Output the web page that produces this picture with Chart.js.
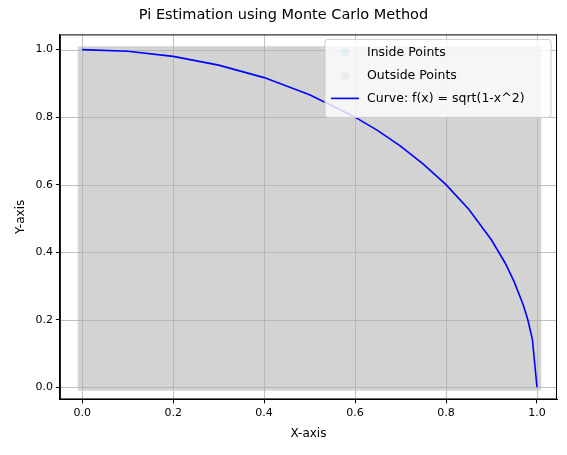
<!DOCTYPE html>
<html><head><meta charset="utf-8">
<script src="https://cdn.jsdelivr.net/npm/chart.js@4"></script>
<style>body{margin:0;background:#fff}#w{width:567px;height:455px}</style>
</head><body><div id="w"><canvas id="c"></canvas></div>
<script>
const curveX = [0,0.1,0.2,0.3,0.4,0.5,0.6,0.65,0.7,0.75,0.8,0.85,0.9,0.93,0.95,0.97,0.98,0.99,1.0];
const curveY = [1,0.995,0.980,0.954,0.917,0.866,0.8,0.760,0.714,0.661,0.6,0.527,0.436,0.368,0.312,0.243,0.199,0.141,0];
const outsideX = [-0.01,1.01];
const outsideY = [1.01,1.01];
const xTicks = [0,0.2,0.4,0.6,0.8,1.0];
const yTicks = [0,0.2,0.4,0.6,0.8,1.0];

const inside = [{x:-0.01,y:1.0}].concat(curveX.map((x,i)=>({x,y:curveY[i]})));
const gridPlugin = {id:'gr',afterDatasetsDraw(ch){
  const c=ch.ctx,a=ch.chartArea,sx=ch.scales.x,sy=ch.scales.y;
  c.save();c.strokeStyle='#b0b0b0';c.lineWidth=0.8;c.beginPath();
  xTicks.forEach(v=>{const p=Math.round(sx.getPixelForValue(v))+0.5;c.moveTo(p,a.top);c.lineTo(p,a.bottom);});
  yTicks.forEach(v=>{const p=Math.round(sy.getPixelForValue(v))+0.5;c.moveTo(a.left,p);c.lineTo(a.right,p);});
  c.stroke();
  // redraw curve on top of grid
  c.strokeStyle='blue';c.lineWidth=1.6;c.beginPath();
  curveX.forEach((x,i)=>{const px=sx.getPixelForValue(x),py=sy.getPixelForValue(curveY[i]);i?c.lineTo(px,py):c.moveTo(px,py);});
  c.stroke();
  c.strokeStyle='#000';c.lineWidth=1;c.strokeRect(a.left+0.5,a.top+0.5,a.right-a.left-1,a.bottom-a.top-1);
  c.restore();}};
const legendPlugin = {id:'lg',afterDraw(ch){
  const c=ch.ctx,a=ch.chartArea;const w=226,h=78,x=a.right-w-6,y=a.top+5;
  c.save();c.fillStyle='rgba(255,255,255,0.8)';c.strokeStyle='#ccc';c.lineWidth=1;
  c.beginPath();c.roundRect(x,y,w,h,3);c.fill();c.stroke();
  c.font='12.5px "DejaVu Sans"';c.textBaseline='middle';
  const rows=[['Inside Points','rgba(176,224,230,0.3)'],['Outside Points','rgba(211,211,211,0.3)'],['Curve: f(x) = sqrt(1-x^2)','line']];
  rows.forEach((r,i)=>{const yy=y+13+i*23;
    if(r[1]==='line'){c.strokeStyle='blue';c.lineWidth=1.6;c.beginPath();c.moveTo(x+6,yy);c.lineTo(x+34,yy);c.stroke();}
    else{c.fillStyle=r[1];c.beginPath();c.arc(x+20,yy,4,0,7);c.fill();}
    c.fillStyle='#000';c.fillText(r[0],x+42,yy);});
  c.restore();}};
new Chart(document.getElementById('c'),{
  type:'scatter',
  data:{datasets:[
    {data:outsideX.map((x,i)=>({x,y:outsideY[i]})),showLine:true,fill:{value:-0.01},backgroundColor:'#d3d3d3',borderWidth:0,pointRadius:0},
    {data:inside,showLine:true,fill:{value:-0.01},backgroundColor:'#b0dfe5',borderWidth:0,pointRadius:0},
    {data:curveX.map((x,i)=>({x,y:curveY[i]})),showLine:true,borderColor:'blue',borderWidth:0,pointRadius:0,fill:false}
  ]},
  options:{animation:false,responsive:true,maintainAspectRatio:false,
    layout:{padding:{top:5,right:10,left:10,bottom:10}},
    plugins:{legend:{display:false},tooltip:{enabled:false},
      title:{display:true,text:'Pi Estimation using Monte Carlo Method',color:'#000',font:{family:'DejaVu Sans',size:14.5,weight:'normal'},padding:{top:2,bottom:10}}},
    scales:{
      x:{min:-0.049,max:1.044,afterBuildTicks(s){s.ticks=xTicks.map(v=>({value:v}));},
        ticks:{color:'#000',font:{family:'DejaVu Sans',size:11},callback:v=>v.toFixed(1)},
        grid:{display:true,drawOnChartArea:false,color:'#000',tickLength:4},border:{color:'#000'},
        title:{display:true,text:'X-axis',color:'#000',font:{family:'DejaVu Sans',size:12}}},
      y:{min:-0.036,max:1.045,afterBuildTicks(s){s.ticks=yTicks.map(v=>({value:v}));},
        ticks:{color:'#000',font:{family:'DejaVu Sans',size:11},callback:v=>v.toFixed(1)},
        grid:{display:true,drawOnChartArea:false,color:'#000',tickLength:4},border:{color:'#000'},
        title:{display:true,text:'Y-axis',color:'#000',font:{family:'DejaVu Sans',size:12}}}
    }},
  plugins:[gridPlugin,legendPlugin]
});
</script></body></html>
